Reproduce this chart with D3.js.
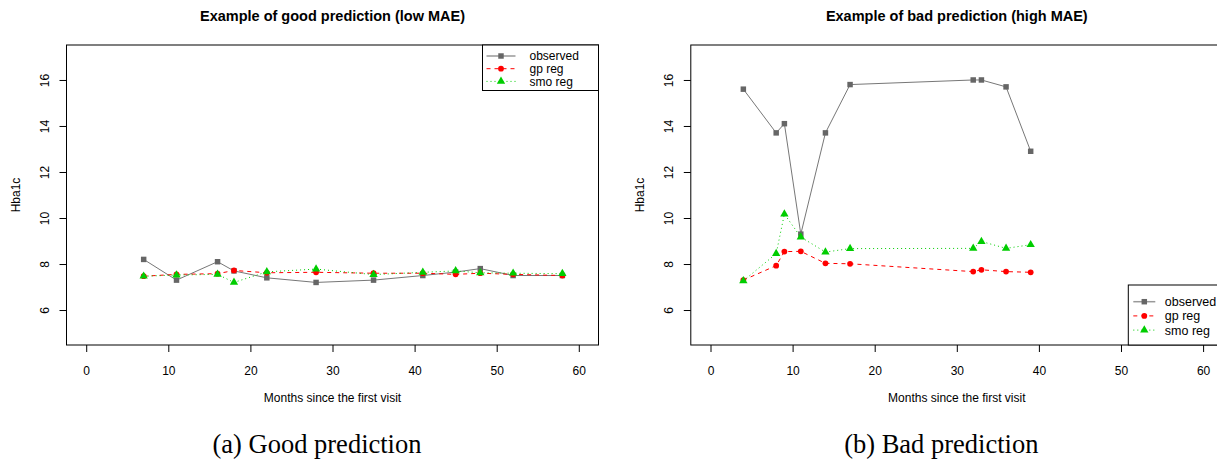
<!DOCTYPE html>
<html>
<head>
<meta charset="utf-8">
<script src="https://cdn.jsdelivr.net/npm/d3@7"></script>
<style>
body { margin: 0; background: #fff; }
svg { display: block; }
text { font-family: "Liberation Sans", Arial, sans-serif; fill: #000; }
.caption { font-family: "Liberation Serif", "Times New Roman", serif; }
</style>
</head>
<body>
<svg width="1217" height="461"></svg>
<script>
// panel (a): good prediction
months_a = [7, 11, 16, 18, 22, 28, 35, 41, 45, 48, 52, 58];
observed_a = [8.2, 7.3, 8.1, 7.7, 7.4, 7.2, 7.3, 7.5, 7.65, 7.8, 7.5, 7.5];
gp_a = [7.47, 7.55, 7.58, 7.72, 7.62, 7.64, 7.6, 7.6, 7.55, 7.6, 7.55, 7.5];
smo_a = [7.47, 7.52, 7.55, 7.2, 7.66, 7.78, 7.54, 7.64, 7.7, 7.62, 7.6, 7.58];

// panel (b): bad prediction
months_b = [4, 8, 9, 11, 14, 17, 32, 33, 36, 39];
observed_b = [15.6, 13.7, 14.1, 9.3, 13.7, 15.8, 16.0, 16.0, 15.7, 12.9];
gp_b = [7.3, 7.93, 8.54, 8.55, 8.03, 8.01, 7.67, 7.75, 7.67, 7.64];
smo_b = [7.27, 8.45, 10.17, 9.17, 8.52, 8.67, 8.68, 8.98, 8.68, 8.84];

x_ticks = [0, 10, 20, 30, 40, 50, 60];
y_ticks = [6, 8, 10, 12, 14, 16];
series_names = ["observed", "gp reg", "smo reg"];

svg = d3.select('svg');

// series look (R: pch 15 / 19 / 17, lty 1 / 2 / 3)
styles = [
    { line: '#777777', fill: '#666666', dash: null, symbol: d3.symbolSquare, size: 30 },
    { line: '#ff0000', fill: '#ff0000', dash: '4,4', symbol: d3.symbolCircle, size: 26 },
    { line: '#00cd00', fill: '#00cd00', dash: '1,3', symbol: d3.symbolTriangle, size: 30 }
];

drawPanel = (dx, title, caption, months, series, leg) => {
    g = svg.append('g').attr('transform', `translate(${dx}, 0)`);

    xScale = d3.scaleLinear().domain([-2.4, 62.4]).range([66.5, 598.5]);
    yScale = d3.scaleLinear().domain([4.48, 17.52]).range([345, 45]);

    // axes, R style: ticks outward, labels parallel to axis
    xAxis = g.append('g')
        .attr('transform', 'translate(0, 345)')
        .call(d3.axisBottom(xScale).tickValues(x_ticks).tickSize(7).tickPadding(0).tickFormat(d3.format('d')));
    xAxis.select('.domain').remove();
    xAxis.selectAll('text').attr('y', 30).attr('dy', 0).style('font-size', '12px');

    yAxis = g.append('g')
        .attr('transform', 'translate(66.5, 0)')
        .call(d3.axisLeft(yScale).tickValues(y_ticks).tickSize(7).tickFormat(d3.format('d')));
    yAxis.select('.domain').remove();
    yAxis.selectAll('text')
        .attr('x', 0).attr('dy', 0)
        .attr('transform', 'translate(-17.5, 0) rotate(-90)')
        .attr('text-anchor', 'middle')
        .style('font-size', '12px');

    g.append('rect')
        .attr('x', 66.5).attr('y', 45)
        .attr('width', 532).attr('height', 300)
        .attr('fill', 'none').attr('stroke', '#000');

    line = d3.line().x((d) => xScale(d[0])).y((d) => yScale(d[1]));

    for(i = 0; i < series.length; i++) {
        pts = months.map((m, j) => [m, series[i][j]]);
        s = styles[i];
        g.append('path')
            .attr('d', line(pts))
            .attr('fill', 'none')
            .attr('stroke', s.line)
            .attr('stroke-width', 1)
            .attr('stroke-dasharray', s.dash);
        g.selectAll()
            .data(pts)
            .enter()
            .append('path')
            .attr('d', d3.symbol().type(s.symbol).size(s.size))
            .attr('transform', (d) => `translate(${xScale(d[0])}, ${yScale(d[1])})`)
            .attr('fill', s.fill);
    }

    // legend
    g.append('rect')
        .attr('x', leg.x).attr('y', leg.y)
        .attr('width', leg.w).attr('height', leg.h)
        .attr('fill', '#fff').attr('stroke', '#000');
    for(i = 0; i < series_names.length; i++) {
        s = styles[i];
        yy = leg.row0 + i * leg.step;
        g.append('line')
            .attr('x1', leg.x + leg.seg0).attr('x2', leg.x + leg.seg1)
            .attr('y1', yy).attr('y2', yy)
            .attr('stroke', i == 0 ? '#999999' : s.line)
            .attr('stroke-width', i == 0 ? 1.5 : 1)
            .attr('stroke-dasharray', s.dash);
        g.append('path')
            .attr('d', d3.symbol().type(s.symbol).size(s.size))
            .attr('transform', `translate(${leg.x + (leg.seg0 + leg.seg1) / 2}, ${yy})`)
            .attr('fill', s.fill);
        g.append('text')
            .attr('x', leg.x + leg.tx)
            .attr('y', yy + leg.fs * 0.36)
            .style('font-size', leg.fs + 'px')
            .text(series_names[i]);
    }

    // labels
    g.append('text')
        .attr('x', 332.5).attr('y', 402)
        .attr('text-anchor', 'middle')
        .style('font-size', '12px')
        .text('Months since the first visit');

    g.append('text')
        .attr('transform', 'translate(19.5, 195) rotate(-90)')
        .attr('text-anchor', 'middle')
        .style('font-size', '12px')
        .text('Hba1c');

    g.append('text')
        .attr('x', 332.5).attr('y', 21)
        .attr('text-anchor', 'middle')
        .style('font-size', '14.5px')
        .style('font-weight', 'bold')
        .text(title);

    g.append('text')
        .attr('class', 'caption')
        .attr('x', 317).attr('y', 453)
        .attr('text-anchor', 'middle')
        .style('font-size', '26.5px')
        .text(caption);
};

drawPanel(0, 'Example of good prediction (low MAE)', '(a) Good prediction',
    months_a, [observed_a, gp_a, smo_a],
    { x: 482.5, y: 45, w: 116, h: 45.5, row0: 56, step: 12.7, seg0: 4, seg1: 33, tx: 47, fs: 12 });

drawPanel(624.3, 'Example of bad prediction (high MAE)', '(b) Bad prediction',
    months_b, [observed_b, gp_b, smo_b],
    { x: 504, y: 285, w: 130, h: 60, row0: 301.7, step: 14.2, seg0: 5, seg1: 27, tx: 36.5, fs: 12.5 });
</script>
</body>
</html>
